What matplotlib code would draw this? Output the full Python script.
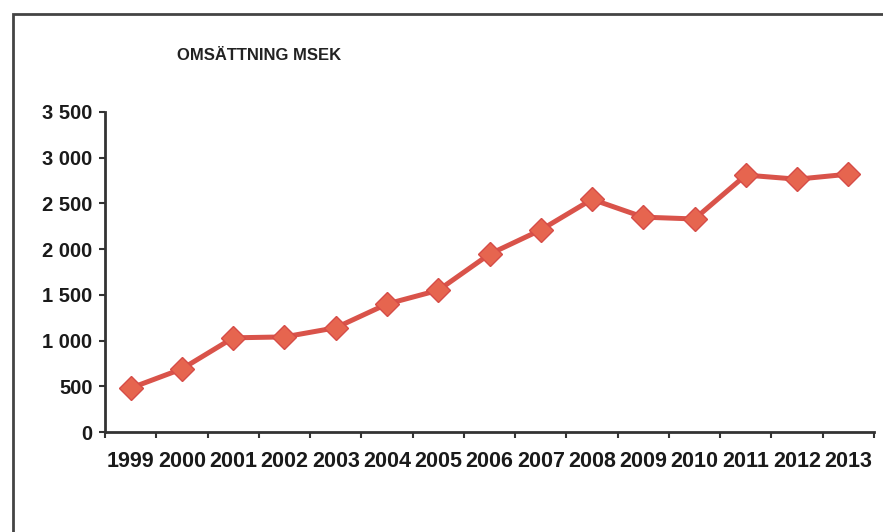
import matplotlib
matplotlib.use("Agg")
import matplotlib.pyplot as plt
from matplotlib.ticker import FuncFormatter, MultipleLocator, FixedLocator
from matplotlib.patches import Rectangle

# Omsättning (MSEK) per år
years = ['1999', '2000', '2001', '2002', '2003', '2004', '2005', '2006',
         '2007', '2008', '2009', '2010', '2011', '2012', '2013']
omsattning = [480, 690, 1030, 1040, 1140, 1400, 1550, 1945,
              2210, 2545, 2350, 2330, 2810, 2765, 2820]

plt.rcParams['font.family'] = ['Liberation Sans', 'DejaVu Sans']
plt.rcParams['font.weight'] = 'bold'

fig = plt.figure(figsize=(8.83, 5.32), dpi=100)
ax = fig.add_axes([105/883, 1 - 432/532, (874-105)/883, (432-112)/532])

x = range(len(years))
ax.plot(x, omsattning, color='#D9534A', lw=3.6, marker='D', markersize=12.5,
        markerfacecolor='#E6654F', markeredgecolor='#D64C47', markeredgewidth=1)

ax.set_ylim(0, 3500)
ax.set_xlim(-0.5, len(years) - 0.5)
ax.yaxis.set_major_locator(MultipleLocator(500))
ax.yaxis.set_major_formatter(FuncFormatter(lambda v, p: '{:,.0f}'.format(v).replace(',', ' ')))
ax.set_xticks(list(x))
ax.set_xticklabels(years)
ax.xaxis.set_minor_locator(FixedLocator([i - 0.5 for i in range(len(years) + 1)]))
ax.tick_params(axis='x', which='major', length=0, pad=14, labelsize=15.5, labelcolor='#1a1a1a')
ax.tick_params(axis='x', which='minor', length=4, width=1.5, color='#333333')
ax.tick_params(axis='y', length=4, width=1.5, color='#333333', labelsize=14.5, pad=5,
               labelcolor='#1a1a1a')

for s in ['top', 'right']:
    ax.spines[s].set_visible(False)
for s in ['left', 'bottom']:
    ax.spines[s].set_linewidth(2)
    ax.spines[s].set_color('#333333')

fig.text(259/883, 1 - 55/532, 'OMSÄTTNING MSEK', ha='center', va='center',
         fontsize=12, fontweight='bold', color='#222222')

# ram runt diagrammet
fig.patches.append(Rectangle((13/883, -0.1), 1.2, 1 - 14/532 + 0.1, transform=fig.transFigure,
                             fill=False, lw=2, edgecolor='#444444'))

fig.savefig('out.png', dpi=100)
